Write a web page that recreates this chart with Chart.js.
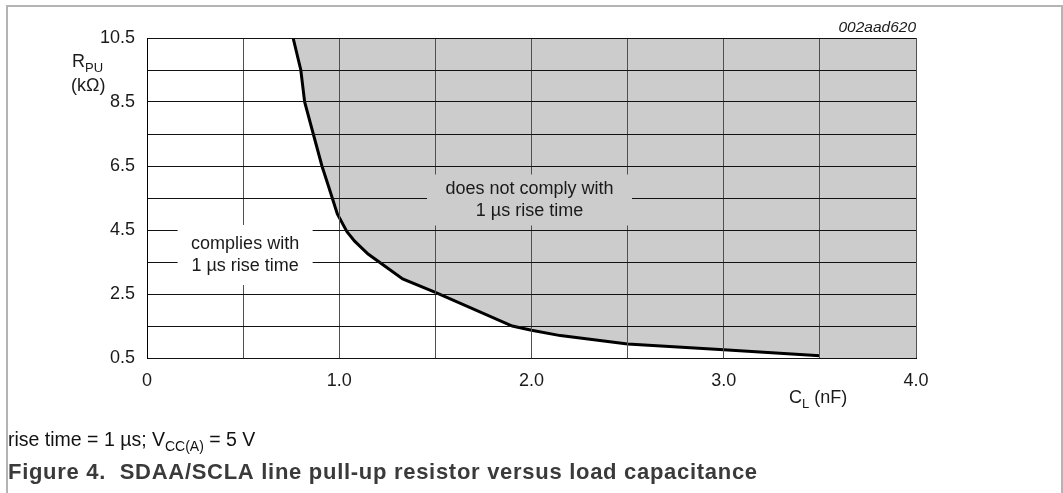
<!DOCTYPE html>
<html>
<head>
<meta charset="utf-8">
<script src="https://cdn.jsdelivr.net/npm/chart.js@4.4.0/dist/chart.umd.min.js"></script>
<style>
html,body{margin:0;padding:0;background:#fff;}
#wrap{width:1063px;height:493px;}
</style>
</head>
<body>
<div id="wrap"><canvas id="c" width="1063" height="493"></canvas></div>
<script>
// Curve: load capacitance (nF) vs maximum pull-up resistor (kOhm)
const capacitance_nF = [0.76, 0.80, 0.82, 0.865, 0.91, 0.945, 0.99, 1.04, 1.08, 1.15, 1.33, 1.50, 1.90, 2.00, 2.15, 2.50, 3.00, 3.50];
const resistance_kOhm = [10.5, 9.5, 8.5, 7.5, 6.5, 5.85, 5.0, 4.45, 4.15, 3.75, 2.97, 2.55, 1.50, 1.37, 1.20, 0.94, 0.76, 0.57];
// Outer corners of the "does not comply" region (after the curve's end)
const regionCornerX = [3.5, 4.0, 4.0];
const regionCornerY = [0.5, 0.5, 10.5];
// Tick labels
const xTickValues = [0, 1, 2, 3, 4];
const xTickLabels = ['0', '1.0', '2.0', '3.0', '4.0'];
const yTickValues = [0.5, 2.5, 4.5, 6.5, 8.5, 10.5];
const yTickLabels = ['0.5', '2.5', '4.5', '6.5', '8.5', '10.5'];

const FONT = '"Liberation Sans", Arial, Helvetica, sans-serif';

const curvePts = capacitance_nF.map((x, i) => ({x, y: resistance_kOhm[i]}));
const regionPts = curvePts.concat(regionCornerX.map((x, i) => ({x, y: regionCornerY[i]})));

function richText(ctx, parts, x, y, size, color) {
  let cx = x;
  ctx.fillStyle = color;
  ctx.textAlign = 'left';
  ctx.textBaseline = 'alphabetic';
  parts.forEach(p => {
    ctx.font = (p.sub ? Math.round(size * 0.72) : size) + 'px ' + FONT;
    ctx.fillText(p.t, cx, p.sub ? y + size * 0.25 : y);
    cx += ctx.measureText(p.t).width;
  });
}

function boxedLabel(ctx, lines, cx, cy, bw, bh, bg) {
  ctx.fillStyle = bg;
  ctx.fillRect(cx - bw / 2, cy - bh / 2, bw, bh);
  ctx.font = '18px ' + FONT;
  ctx.fillStyle = '#1a1a1a';
  ctx.textAlign = 'center';
  ctx.textBaseline = 'middle';
  ctx.fillText(lines[0], cx, cy - 11);
  ctx.fillText(lines[1], cx, cy + 11);
}

const decor = {
  id: 'decor',
  afterDraw(chart) {
    const ctx = chart.ctx;
    const xs = chart.scales.x, ys = chart.scales.y;
    ctx.save();
    // frame
    ctx.strokeStyle = '#b4b4b4';
    ctx.lineWidth = 2;
    ctx.beginPath();
    ctx.moveTo(7, 493);
    ctx.lineTo(7, 6);
    ctx.lineTo(1062, 6);
    ctx.lineTo(1062, 493);
    ctx.stroke();

    // region labels
    boxedLabel(ctx, ['complies with', '1 µs rise time'],
      xs.getPixelForValue(0.5) + 2, ys.getPixelForValue(3.5) - 7, 135, 60, '#ffffff');
    boxedLabel(ctx, ['does not comply with', '1 µs rise time'],
      xs.getPixelForValue(2.0) - 2, ys.getPixelForValue(5.5) + 2, 205, 51, '#cccccc');

    // axis titles
    richText(ctx, [{t: 'R'}, {t: 'PU', sub: true}], 72, 67, 18, '#1a1a1a');
    ctx.font = '18px ' + FONT;
    ctx.fillStyle = '#1a1a1a';
    ctx.textAlign = 'left';
    ctx.textBaseline = 'alphabetic';
    ctx.fillText('(kΩ)', 71, 91);
    richText(ctx, [{t: 'C'}, {t: 'L', sub: true}, {t: ' (nF)'}], 789, 403, 18, '#1a1a1a');

    // figure id
    ctx.font = 'italic 15.5px ' + FONT;
    ctx.fillStyle = '#1a1a1a';
    ctx.textAlign = 'right';
    ctx.fillText('002aad620', 916, 32);

    // footer
    richText(ctx, [{t: 'rise time = 1 µs; V'}, {t: 'CC(A)', sub: true}, {t: ' = 5 V'}], 8, 446, 19.5, '#111111');
    const cap = 'Figure 4.  SDAA/SCLA line pull-up resistor versus load capacitance';
    ctx.font = 'bold 22px ' + FONT;
    ctx.fillStyle = '#3a3a3a';
    ctx.textAlign = 'left';
    const w = ctx.measureText(cap).width;
    ctx.letterSpacing = Math.max(0, (750 - w) / cap.length).toFixed(2) + 'px';
    ctx.fillText(cap, 8, 479);
    ctx.letterSpacing = '0px';
    ctx.restore();
  }
};

new Chart(document.getElementById('c'), {
  type: 'scatter',
  data: {
    datasets: [
      {
        label: 'limit',
        data: curvePts,
        showLine: true,
        borderColor: '#000000',
        borderWidth: 3,
        pointRadius: 0,
        fill: false,
        tension: 0,
        order: 0
      },
      {
        label: 'region',
        data: regionPts,
        showLine: true,
        borderWidth: 0,
        borderColor: 'rgba(0,0,0,0)',
        backgroundColor: '#cccccc',
        pointRadius: 0,
        fill: 'shape',
        tension: 0,
        order: 1
      }
    ]
  },
  options: {
    responsive: false,
    animation: false,
    devicePixelRatio: 1,
    layout: {padding: {top: 38, right: 147, left: 0, bottom: 0}},
    plugins: {legend: {display: false}, tooltip: {enabled: false}},
    scales: {
      x: {
        type: 'linear', min: 0, max: 4,
        afterFit: s => { s.height = 135; },
        border: {display: true, color: '#000', width: 1, z: 1},
        grid: {color: '#505050', lineWidth: 1, drawTicks: false, z: 1},
        ticks: {
          stepSize: 0.5, autoSkip: false, maxRotation: 0, padding: 12,
          color: '#1a1a1a', font: {family: FONT, size: 18},
          callback: v => { const i = xTickValues.indexOf(v); return i >= 0 ? xTickLabels[i] : ''; }
        }
      },
      y: {
        type: 'linear', min: 0.5, max: 10.5,
        afterFit: s => { s.width = 147; },
        border: {display: true, color: '#000', width: 1, z: 1},
        grid: {color: '#111111', lineWidth: 1, drawTicks: false, z: 1},
        ticks: {
          stepSize: 1, autoSkip: false, padding: 12,
          color: '#1a1a1a', font: {family: FONT, size: 18},
          callback: v => { const i = yTickValues.findIndex(t => Math.abs(t - v) < 1e-6); return i >= 0 ? yTickLabels[i] : ''; }
        }
      }
    }
  },
  plugins: [decor]
});
</script>
</body>
</html>
